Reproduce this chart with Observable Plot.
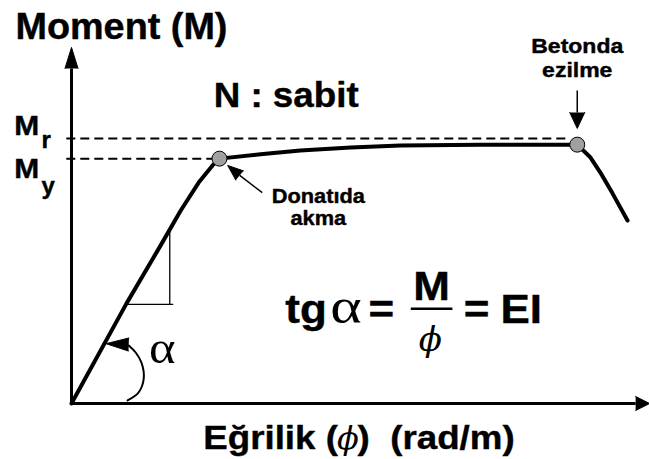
<!DOCTYPE html>
<html><head><meta charset="utf-8">
<script src="https://cdn.jsdelivr.net/npm/d3@7"></script>
<script src="https://cdn.jsdelivr.net/npm/@observablehq/plot@0.6"></script>
<style>
html,body{margin:0;padding:0;background:#fff;}
#chart svg{display:block;}
</style></head><body><div id="chart"></div>
<script>
// Moment–curvature curve (arbitrary units)
const curvature = [0, 9.5, 15.4, 18.9, 22.0, 24.4, 25.6, 32.7, 39.6, 48.3, 56.9, 70.8, 87.5, 89.8, 91.5, 93.6, 96.2];
const moment    = [0, 27.9, 44.1, 53.9, 61.7, 66.5, 68.4, 69.6, 70.7, 71.5, 72.1, 72.3, 72.3, 68.7, 64.5, 58.7, 51.1];
// key points: yielding of reinforcement, crushing of concrete
const pointNames = ["Donatıda akma", "Betonda ezilme"];
const pointPhi = [25.6, 87.5];
const pointM = [68.4, 72.3];
// moment levels
const levelNames = ["r", "y"];
const levelM = [74.0, 68.4];
const levelPhi = [86.3, 24.4];
// alpha arc
const arcPhi = [9.7, 11.6, 12.5, 12.1, 11.1, 9.9];
const arcM = [0.84, 3.07, 6.98, 11.45, 14.25, 16.2];

const curve = curvature.map((x, i) => ({x, y: moment[i]}));
const pts = pointPhi.map((x, i) => ({x, y: pointM[i], name: pointNames[i]}));
const levels = levelM.map((y, i) => ({y, x2: levelPhi[i], name: levelNames[i]}));
const arc = arcPhi.map((x, i) => ({x, y: arcM[i]}));

const bold = "Liberation Sans, Arial, sans-serif";
const serif = "Liberation Serif, DejaVu Serif, serif";
function txt(data, o) {
  return Plot.text(data, {fill: "black", text: d => d, lineAnchor: "bottom", ...o});
}
const heavy = {fontFamily: bold, fontWeight: "bold", stroke: "black", strokeWidth: 0.4};
const head = {shape: "spike", anchor: "start", fill: "black", stroke: "black", strokeWidth: 1, fillOpacity: 1};

const plot = Plot.plot({
  width: 649, height: 459,
  marginLeft: 71, marginRight: 0, marginTop: 45, marginBottom: 56,
  x: {domain: [0, 100], axis: null},
  y: {domain: [0, 100], axis: null},
  style: {background: "white", overflow: "visible"},
  marks: [
    // dashed levels
    Plot.link(levels, {x1: -0.9, x2: "x2", y1: "y", y2: "y", stroke: "black", strokeWidth: 2, strokeDasharray: "9,5"}),
    // axes
    Plot.link([0], {x1: 0, y1: 0, x2: 0, y2: 93.6, stroke: "black", strokeWidth: 3}),
    Plot.link([0], {x1: 0, y1: 0, x2: 97.6, y2: 0, stroke: "black", strokeWidth: 3}),
    Plot.vector([0], {x: 0, y: 93.6, length: 21, rotate: 0, r: 6.5, ...head}),
    Plot.vector([0], {x: 97.6, y: 0, length: 14, rotate: 90, r: 7, ...head}),
    // slope triangle
    Plot.link([0], {x1: 9.3, y1: 27.7, x2: 17.6, y2: 27.7, stroke: "black", strokeWidth: 1.3}),
    Plot.link([0], {x1: 17.0, y1: 27.7, x2: 17.0, y2: 48.9, stroke: "black", strokeWidth: 1.3}),
    // curve
    Plot.line(curve, {x: "x", y: "y", stroke: "black", strokeWidth: 4, strokeLinejoin: "round"}),
    // alpha arc
    Plot.line(arc, {x: "x", y: "y", curve: "catmull-rom", stroke: "black", strokeWidth: 2}),
    Plot.vector([0], {x: 9.9, y: 16.5, length: 23, rotate: -88, r: 6.5, ...head}),
    // annotation arrows
    Plot.link([0], {x1: 87.5, y1: 87.4, x2: 87.5, y2: 81.3, stroke: "black", strokeWidth: 1.5}),
    Plot.vector([0], {x: 87.5, y: 81.3, length: 16, rotate: 180, r: 7.5, ...head}),
    Plot.link([0], {x1: 33.0, y1: 58.9, x2: 29.1, y2: 63.7, stroke: "black", strokeWidth: 1.5}),
    Plot.vector([0], {x: 29.1, y: 63.7, length: 15.6, rotate: -50, r: 6, ...head}),
    // key points
    Plot.dot(pts, {x: "x", y: "y", r: 7.5, fill: "#a0a0a0", stroke: "black", strokeWidth: 1}),
    // texts
    txt(["Moment (M)"], {x: -9.7, y: 101.7, textAnchor: "start", ...heavy, fontSize: 36, ariaDescription: "sx:1.05"}),
    txt(["N : sabit"], {x: 24.6, y: 82.7, textAnchor: "start", ...heavy, fontSize: 35, ariaDescription: "sx:1.05"}),
    txt(["M", "M"], {x: -9.9, y: (d, i) => [74.9, 63.1][i], textAnchor: "start", ...heavy, fontSize: 28, ariaDescription: "sx:1.07"}),
    txt(levels, {x: -5.2, y: (d, i) => [71.5, 58.4][i], text: "name", textAnchor: "start", ...heavy, fontSize: 24}),
    txt(["Betonda", "ezilme"], {x: 87.5, y: (d, i) => [98.0, 91.3][i], textAnchor: "middle", ...heavy, fontSize: 20, ariaDescription: "sx:1.15"}),
    txt(["Donatıda", "akma"], {x: 42.7, y: (d, i) => [56.1, 50.0][i], textAnchor: "middle", ...heavy, fontSize: 20, ariaDescription: "sx:1.09"}),
    // formula
    txt(["tg"], {x: 37.0, y: 22.6, textAnchor: "start", ...heavy, fontSize: 40, ariaDescription: "sx:1.1"}),
    txt(["α"], {x: 47.5, y: 22.6, textAnchor: "middle", fontFamily: serif, fontSize: 50, ariaDescription: "sx:1.2"}),
    txt(["=", "="], {x: (d, i) => [53.6, 70.1][i], y: 22.6, textAnchor: "middle", ...heavy, fontSize: 40, ariaDescription: "sx:1.1"}),
    txt(["M"], {x: 62.3, y: 28.8, textAnchor: "middle", ...heavy, fontSize: 40, ariaDescription: "sx:1.1"}),
    Plot.link([0], {x1: 58.7, y1: 26.5, x2: 65.9, y2: 26.5, stroke: "black", strokeWidth: 2.5}),
    txt(["ϕ"], {x: 62.1, y: 14.8, textAnchor: "middle", fontFamily: "DejaVu Serif, serif", fontStyle: "italic", fontSize: 34}),
    txt(["EI"], {x: 74.2, y: 22.6, textAnchor: "start", ...heavy, fontSize: 40, ariaDescription: "sx:1.1"}),
    // alpha label
    txt(["α"], {x: 15.7, y: 11.2, textAnchor: "middle", fontFamily: serif, fontSize: 46, ariaDescription: "sx:1.1"}),
    // x axis label
    txt(["Eğrilik ("], {x: 22.8, y: -12.6, textAnchor: "start", ...heavy, fontSize: 34, ariaDescription: "sx:1.08"}),
    txt(["ϕ"], {x: 47.8, y: -12.6, textAnchor: "middle", fontFamily: "DejaVu Serif, serif", fontStyle: "italic", fontSize: 32}),
    txt([")\u00a0 (rad/m)"], {x: 49.5, y: -12.6, textAnchor: "start", ...heavy, fontSize: 34, ariaDescription: "sx:1.08"})
  ]
});

// slight horizontal stretch of the labels, as in the reference
plot.querySelectorAll('g[aria-description^="sx:"]').forEach(g => {
  const s = +g.getAttribute("aria-description").slice(3);
  g.querySelectorAll("text").forEach(t => {
    let tr = t.getAttribute("transform");
    if (!tr) {
      const x = +(t.getAttribute("x") || 0), y = +(t.getAttribute("y") || 0);
      t.removeAttribute("x"); t.removeAttribute("y");
      tr = `translate(${x},${y})`;
    }
    t.setAttribute("transform", tr + ` scale(${s},1)`);
  });
});
document.getElementById("chart").appendChild(plot);
</script>
</body></html>
